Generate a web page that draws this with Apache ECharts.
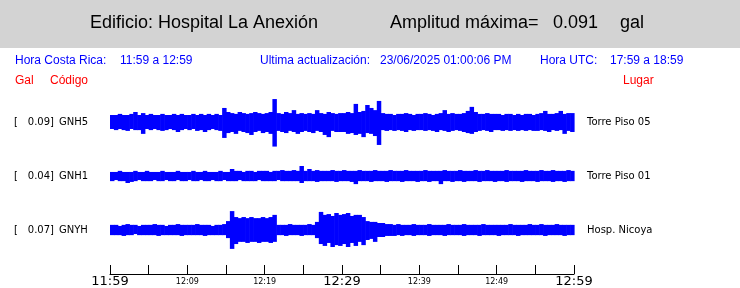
<!DOCTYPE html>
<html>
<head>
<meta charset="utf-8">
<script src="https://cdn.jsdelivr.net/npm/echarts@6/dist/echarts.min.js"></script>
<style>
html,body{margin:0;padding:0;background:#fff;}
#chart{width:740px;height:288px;}
</style>
</head>
<body>
<div id="chart"></div>
<script>
// ---- data ----
const codes = ['GNH5', 'GNH1', 'GNYH'];
const peakLabels = ['0.09', '0.04', '0.07'];
const places = ['Torre Piso 05', 'Torre Piso 01', 'Hosp. Nicoya'];
const tickLabels = ['11:59', '', '12:09', '', '12:19', '', '12:29', '', '12:39', '', '12:49', '', '12:59'];
const bigTicks = ['11:59', '12:29', '12:59'];
const titleText = 'Edificio: Hospital La Anexión';
const ampLabel = 'Amplitud máxima=';
const ampValue = '0.091';
const ampUnit = 'gal';
const infoTexts = ['Hora Costa Rica:', '11:59 a 12:59', 'Ultima actualización:', '23/06/2025 01:00:06 PM', 'Hora UTC:', '17:59 a 18:59'];
const headTexts = ['Gal', 'Código', 'Lugar'];
const sampleMinutes = 0.5; // envelope sampling step (min)

// envelope maxima / minima (gal), one value every 0.5 min from 11:59
const hiGNH5 = [
.026,.026,.030,.026,.026,.030,.037,.026,.033,.026,
.030,.026,.026,.030,.026,.026,.030,.026,.030,.026,
.026,.030,.026,.030,.026,.030,.026,.030,.026,.052,
.037,.033,.030,.037,.033,.030,.033,.037,.033,.030,
.033,.037,.085,.033,.030,.037,.033,.044,.030,.033,
.030,.033,.030,.044,.033,.030,.037,.033,.030,.033,
.033,.037,.033,.067,.037,.041,.063,.052,.044,.078,
.033,.030,.030,.026,.030,.030,.033,.030,.026,.030,
.030,.033,.030,.026,.030,.033,.044,.030,.033,.030,
.030,.033,.041,.056,.037,.030,.030,.033,.030,.030,
.030,.026,.030,.030,.026,.030,.026,.030,.030,.026,
.030,.033,.041,.030,.030,.033,.041,.030,.033,.033];
const loGNH5 = [
-.026,-.030,-.026,-.030,-.033,-.026,-.030,-.030,-.044,-.026,
-.030,-.026,-.030,-.033,-.030,-.026,-.030,-.037,-.030,-.026,
-.030,-.026,-.033,-.030,-.037,-.030,-.026,-.030,-.033,-.059,
-.041,-.037,-.044,-.033,-.037,-.041,-.048,-.037,-.033,-.041,
-.037,-.044,-.091,-.033,-.037,-.041,-.033,-.037,-.044,-.037,
-.033,-.037,-.041,-.033,-.037,-.048,-.056,-.033,-.037,-.037,
-.037,-.044,-.041,-.048,-.044,-.056,-.041,-.044,-.052,-.085,
-.030,-.033,-.030,-.033,-.030,-.033,-.037,-.030,-.033,-.030,
-.030,-.033,-.030,-.033,-.037,-.030,-.033,-.037,-.033,-.030,
-.033,-.037,-.041,-.044,-.037,-.033,-.030,-.033,-.037,-.030,
-.030,-.033,-.030,-.033,-.030,-.033,-.030,-.033,-.030,-.033,
-.033,-.030,-.033,-.037,-.030,-.033,-.030,-.044,-.033,-.037];
const hiGNH1 = [
.015,.015,.019,.015,.015,.015,.019,.015,.015,.019,
.015,.015,.015,.019,.015,.015,.015,.019,.015,.015,
.015,.019,.015,.015,.019,.015,.015,.015,.019,.015,
.015,.026,.019,.019,.015,.019,.019,.015,.019,.019,
.019,.015,.019,.019,.022,.019,.019,.022,.019,.037,
.019,.026,.019,.022,.019,.019,.019,.022,.019,.019,
.022,.019,.019,.019,.022,.019,.019,.019,.022,.019,
.019,.019,.022,.019,.019,.019,.022,.019,.019,.019,
.019,.022,.019,.019,.019,.019,.022,.019,.019,.019,
.022,.019,.019,.019,.022,.019,.019,.022,.019,.019,
.019,.019,.022,.019,.019,.019,.019,.022,.019,.019,
.019,.022,.019,.019,.022,.019,.019,.019,.022,.019];
const loGNH1 = [
-.019,-.015,-.019,-.019,-.026,-.022,-.019,-.015,-.019,-.019,
-.019,-.015,-.019,-.019,-.015,-.019,-.019,-.015,-.019,-.019,
-.015,-.019,-.019,-.015,-.019,-.019,-.015,-.019,-.019,-.015,
-.019,-.019,-.019,-.015,-.019,-.019,-.019,-.019,-.015,-.019,
-.019,-.019,-.019,-.015,-.019,-.019,-.019,-.019,-.019,-.026,
-.019,-.019,-.019,-.022,-.019,-.019,-.019,-.019,-.022,-.019,
-.019,-.019,-.022,-.030,-.019,-.019,-.019,-.022,-.019,-.019,
-.019,-.022,-.019,-.019,-.019,-.022,-.019,-.019,-.019,-.022,
-.019,-.019,-.022,-.019,-.019,-.030,-.019,-.019,-.022,-.019,
-.019,-.022,-.019,-.019,-.019,-.022,-.019,-.019,-.019,-.022,
-.019,-.019,-.022,-.019,-.019,-.019,-.022,-.019,-.019,-.019,
-.022,-.019,-.019,-.019,-.022,-.019,-.019,-.022,-.019,-.019];
const hiGNYH = [
.019,.019,.015,.019,.022,.019,.019,.015,.019,.019,
.019,.022,.019,.019,.015,.019,.019,.022,.019,.019,
.019,.019,.022,.019,.019,.019,.015,.019,.019,.022,
.033,.070,.048,.044,.048,.044,.048,.044,.044,.048,
.044,.048,.056,.019,.019,.019,.022,.019,.019,.019,
.019,.022,.019,.030,.067,.056,.059,.052,.063,.056,
.059,.063,.052,.056,.056,.048,.033,.030,.030,.026,
.026,.022,.022,.019,.022,.019,.019,.019,.022,.019,
.019,.019,.022,.019,.019,.019,.019,.022,.019,.019,
.019,.022,.019,.019,.019,.019,.022,.019,.019,.019,
.019,.019,.019,.022,.019,.019,.019,.019,.022,.019,
.019,.022,.019,.019,.019,.022,.019,.019,.019,.019];
const loGNYH = [
-.019,-.019,-.019,-.022,-.019,-.019,-.015,-.019,-.019,-.019,
-.019,-.019,-.022,-.019,-.019,-.019,-.019,-.019,-.022,-.019,
-.019,-.019,-.019,-.019,-.022,-.019,-.019,-.019,-.019,-.019,
-.030,-.070,-.052,-.044,-.044,-.048,-.044,-.044,-.048,-.044,
-.044,-.048,-.044,-.019,-.019,-.022,-.019,-.019,-.019,-.022,
-.019,-.019,-.019,-.030,-.052,-.059,-.048,-.063,-.056,-.059,
-.052,-.063,-.048,-.059,-.044,-.056,-.037,-.033,-.044,-.026,
-.026,-.022,-.022,-.022,-.019,-.022,-.019,-.019,-.022,-.019,
-.019,-.019,-.022,-.019,-.019,-.019,-.022,-.019,-.019,-.019,
-.019,-.022,-.019,-.019,-.019,-.022,-.019,-.019,-.019,-.019,
-.022,-.019,-.019,-.019,-.019,-.022,-.019,-.019,-.019,-.019,
-.019,-.019,-.022,-.019,-.019,-.019,-.019,-.022,-.019,-.019];

const highs = [hiGNH5, hiGNH1, hiGNYH];
const lows = [loGNH5, loGNH1, loGNYH];

// ---- layout ----
const PLOT_LEFT = 110, PLOT_W = 464;
const traceTops = [95, 149, 203];
const TRACE_H = 54;
const BLUE = '#0000ff';
const SANS = '"Liberation Sans", Arial, sans-serif';
const DEJAVU = '"DejaVu Sans", sans-serif';

const chart = echarts.init(document.getElementById('chart'), null, {renderer: 'canvas'});

const grids = [], xAxes = [], yAxes = [], series = [];
traceTops.forEach((top, k) => {
  grids.push({left: PLOT_LEFT, top: top, width: PLOT_W, height: TRACE_H});
  xAxes.push({type: 'value', gridIndex: k, min: 0, max: 60, show: false});
  yAxes.push({type: 'value', gridIndex: k, min: -0.1, max: 0.1, show: false});
  const d = highs[k].map((h, i) => [i * sampleMinutes, h, lows[k][i]]);
  series.push({
    type: 'custom', xAxisIndex: k, yAxisIndex: k, data: d, silent: true, animation: false,
    encode: {x: 0, y: [1, 2]},
    renderItem: function (params, api) {
      const t = api.value(0), hi = api.value(1), lo = api.value(2);
      const p1 = api.coord([t, hi]);
      const p2 = api.coord([t + sampleMinutes, lo]);
      let w = p2[0] - p1[0] + 0.6;
      if (p1[0] + w > PLOT_LEFT + PLOT_W + 1) w = PLOT_LEFT + PLOT_W + 1 - p1[0];
      return {type: 'rect', shape: {x: p1[0], y: p1[1], width: w, height: p2[1] - p1[1]},
        style: {fill: BLUE}};
    }
  });
});
// time axis grid
grids.push({left: PLOT_LEFT, top: 250, width: PLOT_W, height: 24});
xAxes.push({
  type: 'value', gridIndex: 3, min: 0, max: 60, interval: 5, position: 'bottom',
  axisLine: {show: true, lineStyle: {color: '#000', width: 1}},
  axisTick: {show: true, inside: true, length: 9, lineStyle: {color: '#000', width: 1}},
  splitLine: {show: false},
  axisLabel: {
    show: true, margin: 1, showMinLabel: true, showMaxLabel: true,
    formatter: function (v) {
      const s = tickLabels[Math.round(v / 5)] || '';
      if (!s) return '';
      return bigTicks.indexOf(s) >= 0 ? '{b|' + s + '}' : '{s|' + s + '}';
    },
    rich: {
      b: {fontFamily: DEJAVU, fontSize: 13, lineHeight: 13, color: '#000'},
      s: {fontFamily: DEJAVU, fontSize: 8, lineHeight: 13, color: '#000'}
    }
  }
});
yAxes.push({type: 'value', gridIndex: 3, show: false});

const graphics = [
  {type: 'rect', shape: {x: 0, y: 0, width: 740, height: 48}, style: {fill: '#d3d3d3'}, z: -1}
];
function txt(x, y, s, font, color, align) {
  return {type: 'text', x: x, y: y, style: {text: s, font: font, fill: color,
    textAlign: align || 'left', textVerticalAlign: 'middle', align: align || 'left', verticalAlign: 'middle'}};
}
graphics.push(txt(90, 23, titleText, '18px ' + SANS, '#000'));
graphics.push(txt(390, 23, ampLabel, '18px ' + SANS, '#000'));
graphics.push(txt(553, 23, ampValue, '18px ' + SANS, '#000'));
graphics.push(txt(620, 23, ampUnit, '18px ' + SANS, '#000'));
const infoX = [15, 120, 260, 380, 540, 610];
infoTexts.forEach((s, i) => graphics.push(txt(infoX[i], 61, s, '12px ' + SANS, BLUE)));
const headX = [15, 50, 623];
headTexts.forEach((s, i) => graphics.push(txt(headX[i], 81, s, '12px ' + SANS, '#ff0000')));
traceTops.forEach((top, k) => {
  const cy = top + TRACE_H / 2;
  graphics.push(txt(14, cy, '[', '10px ' + DEJAVU, '#000'));
  graphics.push(txt(54, cy, peakLabels[k] + ']', '10px ' + DEJAVU, '#000', 'right'));
  graphics.push(txt(59, cy, codes[k], '10px ' + DEJAVU, '#000'));
  graphics.push(txt(587, cy, places[k], '10px ' + DEJAVU, '#000'));
});

chart.setOption({
  animation: false,
  backgroundColor: '#fff',
  grid: grids, xAxis: xAxes, yAxis: yAxes, series: series,
  graphic: graphics
});
</script>
</body>
</html>
